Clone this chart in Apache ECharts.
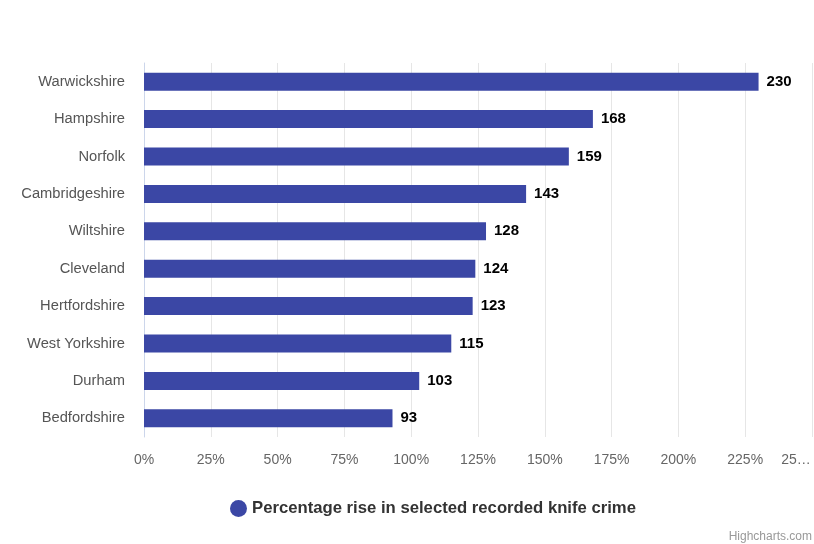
<!DOCTYPE html>
<html><head><meta charset="utf-8">
<script src="https://cdn.jsdelivr.net/npm/echarts@6/dist/echarts.min.js"></script>
<style>html,body{margin:0;padding:0;background:#fff}#c{width:814px;height:544px}</style>
</head><body><div id="c"></div>
<script>
var categories = ['Warwickshire','Hampshire','Norfolk','Cambridgeshire','Wiltshire','Cleveland','Hertfordshire','West Yorkshire','Durham','Bedfordshire'];
var values = [230,168,159,143,128,124,123,115,103,93];
var seriesName = 'Percentage rise in selected recorded knife crime';
var tickLabels = {0:'0%',25:'25%',50:'50%',75:'75%',100:'100%',125:'125%',150:'150%',175:'175%',200:'200%',225:'225%',250:'25…'};

var chart = echarts.init(document.getElementById('c'), null, {renderer:'canvas'});
chart.setOption({
  backgroundColor:'#ffffff',
  animation:false,
  textStyle:{fontFamily:'"Liberation Sans", Arial, sans-serif'},
  grid:{left:144, right:2, top:63, bottom:107, containLabel:false},
  xAxis:{
    type:'value', min:0, max:250, interval:25,
    axisLine:{show:false}, axisTick:{show:false},
    splitLine:{lineStyle:{color:'#e6e6e6', width:1}},
    axisLabel:{
      color:'#666666', fontSize:14, margin:16,
      formatter:function(v){ return v===250 ? '{last|'+tickLabels[v]+'}' : tickLabels[v]; },
      rich:{last:{color:'#666666', fontSize:14, padding:[0,32,0,0]}}
    }
  },
  yAxis:{
    type:'category', data:categories, inverse:true,
    axisLine:{show:true, lineStyle:{color:'#ccd6eb'}},
    axisTick:{show:false},
    axisLabel:{color:'#555555', fontSize:14.7, margin:19}
  },
  legend:{
    show:true, left:225, top:495, icon:'circle', itemWidth:17, itemHeight:17, itemGap:10,
    textStyle:{color:'#333333', fontSize:16.7, fontWeight:'bold'},
    data:[seriesName]
  },
  series:[{
    name:seriesName, type:'bar', data:values, barWidth:18,
    itemStyle:{color:'#3b47a5'},
    label:{show:true, position:'right', distance:8, color:'#000000', fontSize:15, fontWeight:'bold'}
  }],
  graphic:[{
    type:'text', right:2, bottom:1,
    style:{text:'Highcharts.com', fill:'#999999', fontSize:12, fontFamily:'"Liberation Sans", Arial, sans-serif'}
  }]
});
</script></body></html>
